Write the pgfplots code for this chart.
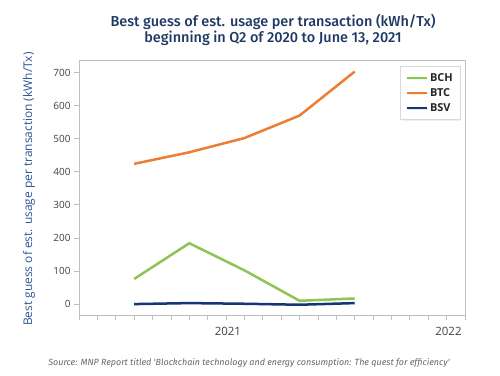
\documentclass[border=0pt]{standalone}
\usepackage{fontspec}
\setmainfont{Open Sans}
\newfontfamily\titlefont{Fira Sans}[BoldFont={Fira Sans Medium}]
\newfontfamily\srcfont{Fira Sans}
\usepackage{pgfplots}
\pgfplotsset{compat=1.18}
\usetikzlibrary{shadows}
\definecolor{bch}{RGB}{141,196,82}
\definecolor{btc}{RGB}{237,125,49}
\definecolor{bsv}{RGB}{22,52,120}
\definecolor{ttl}{RGB}{31,56,100}
\definecolor{ylab}{RGB}{47,85,151}
\definecolor{framec}{RGB}{191,191,191}
\definecolor{tickc}{RGB}{64,64,64}
\begin{document}
\begin{tikzpicture}[x=1bp,y=1bp]
\useasboundingbox (0,0) rectangle (500,375);
\begin{axis}[at={(79bp,60bp)}, anchor=south west, scale only axis,
  width=386bp, height=255bp,
  xmin=0, xmax=21, ymin=-33, ymax=738,
  axis line style={framec, line width=0.9bp},
  xtick={0,...,21}, xticklabels={},
  ytick={0,100,...,700},
  xtick pos=left, ytick pos=left,
  tick style={framec, line width=0.8bp},
  tick align=outside, major tick length=5bp,
  extra x ticks={8.1,20.1}, extra x tick labels={2021,2022},
  extra x tick style={major tick length=0pt, xticklabel style={yshift=-9bp}},
  xticklabel style={font=\fontsize{11.5}{13}\selectfont, text=tickc},
  yticklabel style={font=\fontsize{10}{12}\selectfont, text=tickc},
  /pgf/number format/assume math mode=true,
  legend style={at={(0.987,0.976)}, anchor=north east, draw=framec!60,
    fill=white, drop shadow={opacity=0.12, shadow xshift=1bp, shadow yshift=-1bp},
    font=\bfseries\fontsize{11}{13}\selectfont, text=black!85,
    row sep=1.5bp, inner xsep=5bp, inner ysep=5bp},
  legend cell align=left,
  legend image code/.code={\draw[#1, line width=2.5bp] (0bp,0bp) -- (20bp,0bp);},
]
\addplot[bch, line width=2.5bp] coordinates {(3,76) (6,184) (9,102) (12,10) (15,17)};
\addlegendentry{BCH}
\addplot[btc, line width=2.5bp] coordinates {(3,424) (6,459) (9,502) (12,570) (15,703)};
\addlegendentry{BTC}
\addplot[bsv, line width=2.5bp] coordinates {(3,0) (6,3) (9,1) (12,-2) (15,3)};
\addlegendentry{BSV}
\end{axis}
\node[font=\titlefont\bfseries\fontsize{14.5}{16}\selectfont, text=ttl, align=center] at (273,345)
  {Best guess of est. usage per transaction (kWh/Tx)\\beginning in Q2 of 2020 to June 13, 2021};
\node[rotate=90, text=ylab, font=\fontsize{12}{14}\selectfont] at (29,186)
  {Best guess of est. usage per transaction (kWh/Tx)};
\node[font=\srcfont\itshape\fontsize{9}{11}\selectfont, text=black!60] at (249,12)
  {Source: MNP Report titled 'Blockchain technology and energy consumption: The quest for efficiency'};
\end{tikzpicture}
\end{document}
